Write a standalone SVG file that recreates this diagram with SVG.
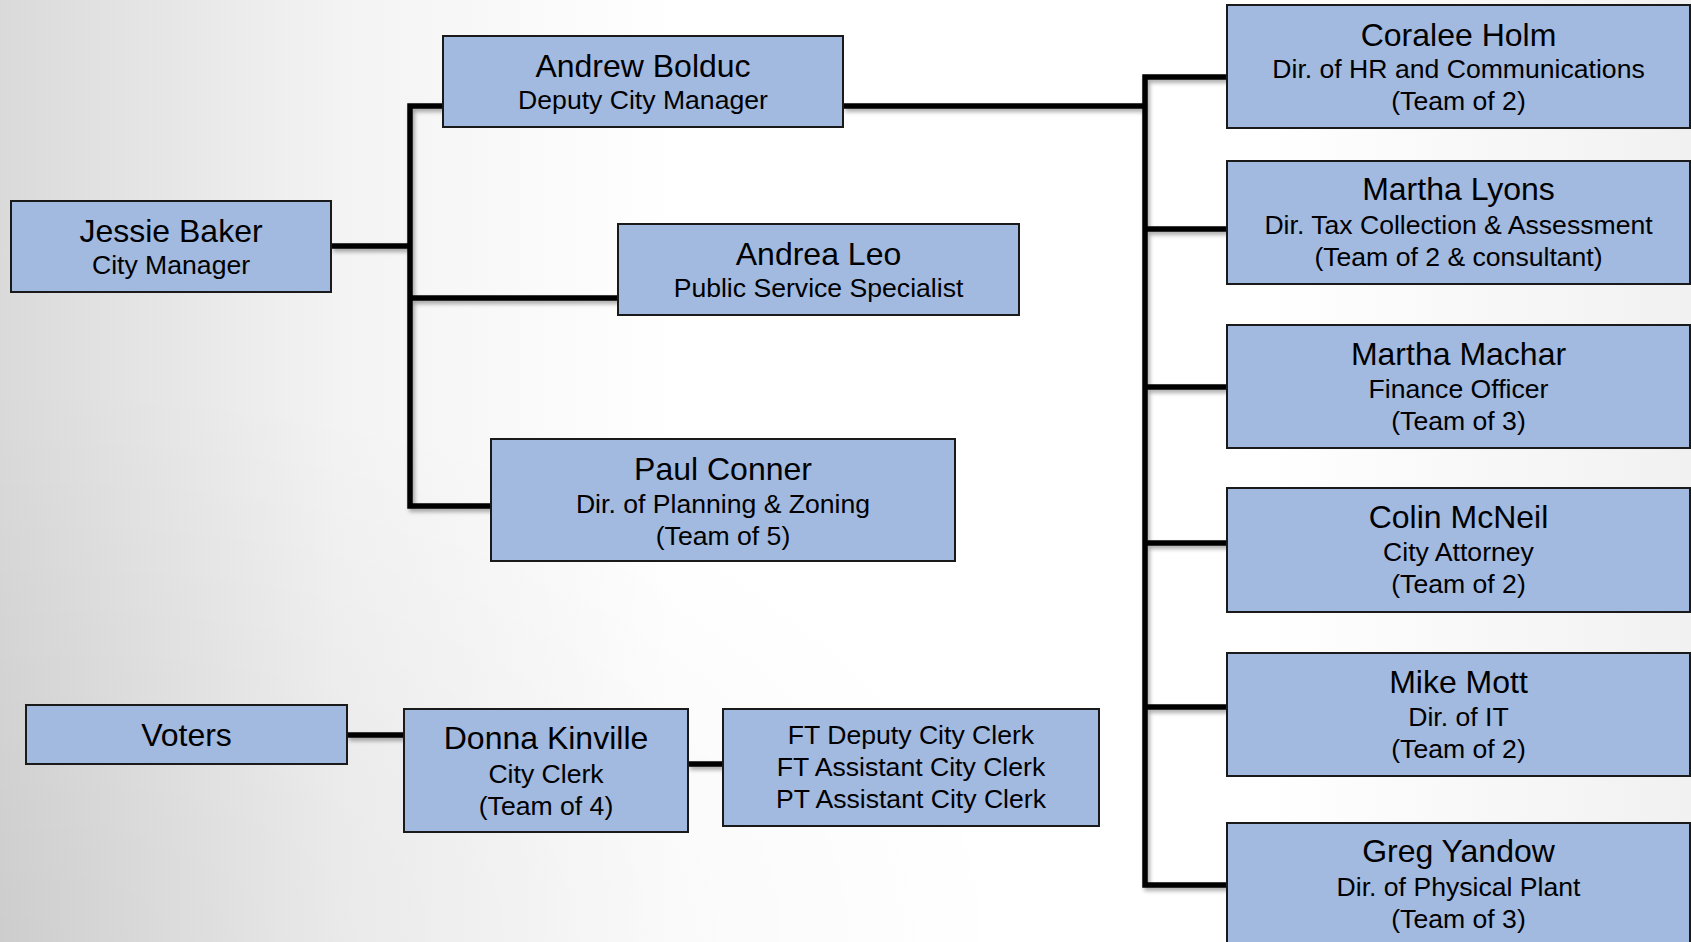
<svg xmlns="http://www.w3.org/2000/svg" width="1691" height="942" viewBox="0 0 1691 942">
<defs>
<linearGradient id="bg" x1="0" y1="0" x2="1" y2="0">
<stop offset="0" stop-color="#dadada"/>
<stop offset="0.2" stop-color="#f3f3f3"/>
<stop offset="0.4" stop-color="#ffffff"/>
<stop offset="0.75" stop-color="#ffffff"/>
<stop offset="1" stop-color="#f1f1f1"/>
</linearGradient>
<radialGradient id="bl" cx="0" cy="1" r="0.6">
<stop offset="0" stop-color="#000" stop-opacity="0.06"/>
<stop offset="1" stop-color="#000" stop-opacity="0"/>
</radialGradient>
<filter id="sh" x="-5%" y="-5%" width="110%" height="120%">
<feDropShadow dx="2" dy="3" stdDeviation="2" flood-color="#000" flood-opacity="0.35"/>
</filter>
</defs>
<style>
.box{fill:#a2b9e0;stroke:#1a1a1a;stroke-width:2}
.nm{font-family:"Liberation Sans",Arial,sans-serif;font-size:32px;fill:#000;text-anchor:middle}
.sb{font-family:"Liberation Sans",Arial,sans-serif;font-size:26.6px;fill:#000;text-anchor:middle}
.cn{fill:none;stroke:#000;stroke-width:5.5;stroke-linejoin:miter}
</style>
<rect width="1691" height="942" fill="url(#bg)"/>
<rect width="1691" height="942" fill="url(#bl)"/>
<g id="connectors" filter="url(#sh)">
<path class="cn" d="M331 246 H410"/>
<path class="cn" d="M443 106 H410 V506 H491"/>
<path class="cn" d="M410 298 H618"/>
<path class="cn" d="M843 106 H1145"/>
<path class="cn" d="M1227 77 H1145 V885 H1227"/>
<path class="cn" d="M1145 229 H1227"/>
<path class="cn" d="M1145 387 H1227"/>
<path class="cn" d="M1145 543 H1227"/>
<path class="cn" d="M1145 707 H1227"/>
<path class="cn" d="M347 735 H404"/>
<path class="cn" d="M688 764 H723"/>
</g>
<g id="jessie-baker">
<rect class="box" x="11" y="201" width="320" height="91"/>
<text class="nm" x="171" y="242">Jessie Baker</text>
<text class="sb" x="171" y="274">City Manager</text>
</g>
<g id="andrew-bolduc">
<rect class="box" x="443" y="36" width="400" height="91"/>
<text class="nm" x="643" y="77">Andrew Bolduc</text>
<text class="sb" x="643" y="109">Deputy City Manager</text>
</g>
<g id="andrea-leo">
<rect class="box" x="618" y="224" width="401" height="91"/>
<text class="nm" x="818.5" y="265">Andrea Leo</text>
<text class="sb" x="818.5" y="297">Public Service Specialist</text>
</g>
<g id="paul-conner">
<rect class="box" x="491" y="439" width="464" height="122"/>
<text class="nm" x="723" y="480">Paul Conner</text>
<text class="sb" x="723" y="513">Dir. of Planning &amp; Zoning</text>
<text class="sb" x="723" y="545">(Team of 5)</text>
</g>
<g id="coralee-holm">
<rect class="box" x="1227" y="5" width="463" height="123"/>
<text class="nm" x="1458.5" y="46">Coralee Holm</text>
<text class="sb" x="1458.5" y="78">Dir. of HR and Communications</text>
<text class="sb" x="1458.5" y="110">(Team of 2)</text>
</g>
<g id="martha-lyons">
<rect class="box" x="1227" y="161" width="463" height="123"/>
<text class="nm" x="1458.5" y="200">Martha Lyons</text>
<text class="sb" x="1458.5" y="234">Dir. Tax Collection &amp; Assessment</text>
<text class="sb" x="1458.5" y="266">(Team of 2 &amp; consultant)</text>
</g>
<g id="martha-machar">
<rect class="box" x="1227" y="325" width="463" height="123"/>
<text class="nm" x="1458.5" y="365">Martha Machar</text>
<text class="sb" x="1458.5" y="398">Finance Officer</text>
<text class="sb" x="1458.5" y="430">(Team of 3)</text>
</g>
<g id="colin-mcneil">
<rect class="box" x="1227" y="488" width="463" height="124"/>
<text class="nm" x="1458.5" y="528">Colin McNeil</text>
<text class="sb" x="1458.5" y="561">City Attorney</text>
<text class="sb" x="1458.5" y="593">(Team of 2)</text>
</g>
<g id="mike-mott">
<rect class="box" x="1227" y="653" width="463" height="123"/>
<text class="nm" x="1458.5" y="693">Mike Mott</text>
<text class="sb" x="1458.5" y="726">Dir. of IT</text>
<text class="sb" x="1458.5" y="758">(Team of 2)</text>
</g>
<g id="greg-yandow">
<rect class="box" x="1227" y="823" width="463" height="130"/>
<text class="nm" x="1458.5" y="862">Greg Yandow</text>
<text class="sb" x="1458.5" y="896">Dir. of Physical Plant</text>
<text class="sb" x="1458.5" y="928">(Team of 3)</text>
</g>
<g id="voters">
<rect class="box" x="26" y="705" width="321" height="59"/>
<text class="nm" x="186.5" y="746">Voters</text>
</g>
<g id="donna-kinville">
<rect class="box" x="404" y="709" width="284" height="123"/>
<text class="nm" x="546" y="749">Donna Kinville</text>
<text class="sb" x="546" y="783">City Clerk</text>
<text class="sb" x="546" y="815">(Team of 4)</text>
</g>
<g id="clerk-staff">
<rect class="box" x="723" y="709" width="376" height="117"/>
<text class="sb" x="911" y="744">FT Deputy City Clerk</text>
<text class="sb" x="911" y="776">FT Assistant City Clerk</text>
<text class="sb" x="911" y="808">PT Assistant City Clerk</text>
</g>
</svg>
